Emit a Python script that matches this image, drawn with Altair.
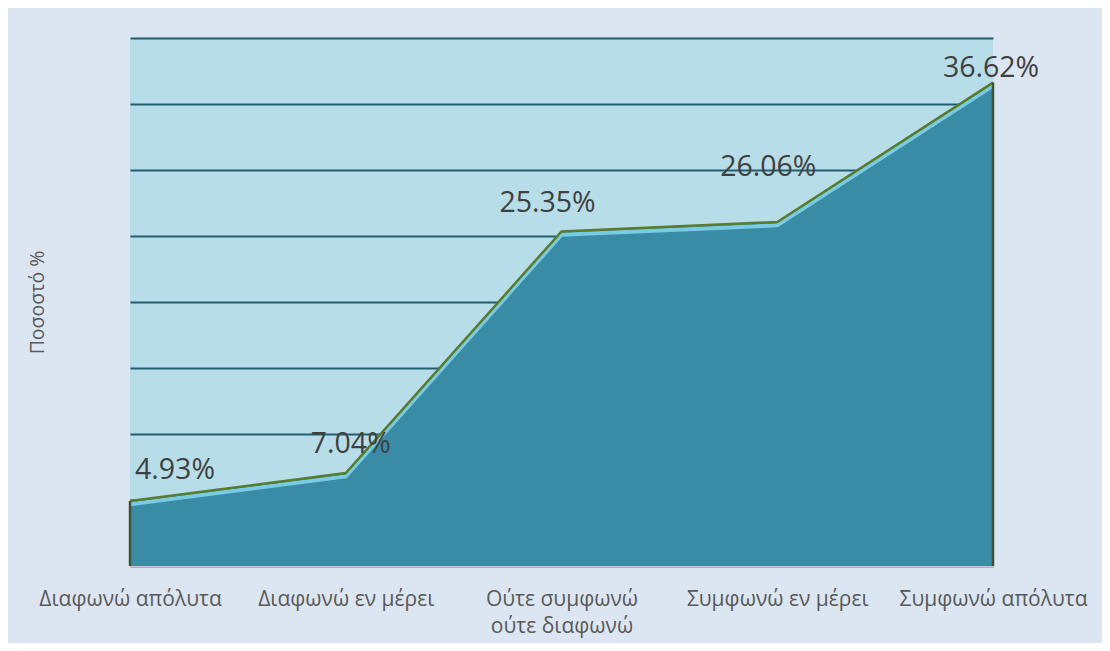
import altair as alt
import pandas as pd

categories = ["Διαφωνώ απόλυτα", "Διαφωνώ εν μέρει", "Ούτε συμφωνώ|ούτε διαφωνώ",
              "Συμφωνώ εν μέρει", "Συμφωνώ απόλυτα"]
values = [4.93, 7.04, 25.35, 26.06, 36.62]
labels = ["4.93%", "7.04%", "25.35%", "26.06%", "36.62%"]
y_ticks = [0, 5, 10, 15, 20, 25, 30, 35, 40]

# label placement offsets (style only, pixels)
label_dx = [45, 5, -14, -9, -2]
label_dy = [-31, -29, -28, -55, -15]

df = pd.DataFrame({"cat": categories, "v": values, "lab": labels})

FONT = "Open Sans"

x_enc = alt.X("cat:O", sort=categories,
              scale=alt.Scale(type="point", padding=0),
              axis=alt.Axis(title=None, labelExpr="split(datum.label, '|')",
                            labelAngle=0, labelFontSize=21, labelColor="#595959",
                            labelFont=FONT, labelPadding=22, labelLineHeight=27,
                            labelLimit=0, labelOverlap=False,
                            ticks=False, domain=True, domainColor="#c8c8c8",
                            domainWidth=2, grid=False, labelBaseline="top"))
y_scale = alt.Scale(domain=[0, 40], nice=False)

area = alt.Chart(df).mark_area(color="#3a8ba5", opacity=1).encode(
    x=x_enc,
    y=alt.Y("v:Q", scale=y_scale,
            axis=alt.Axis(values=y_ticks, labels=False, ticks=False, domain=False,
                          grid=True, gridColor="#215e72", gridWidth=2,
                          title="Ποσοστό %", titleFontSize=19.5, titleFont=FONT,
                          titleFontWeight="normal", titleColor="#595959",
                          titlePadding=83)),
)

bevel = alt.Chart(df).transform_calculate(vb="datum.v - 0.25").mark_line(
    color="#7fd2ea", strokeWidth=4, opacity=0.9).encode(
    x=alt.X("cat:O", sort=categories), y=alt.Y("vb:Q", scale=y_scale))

line = alt.Chart(df).mark_line(color="#5a7a2c", strokeWidth=2.5).encode(
    x=alt.X("cat:O", sort=categories), y=alt.Y("v:Q", scale=y_scale))

edges = alt.Chart(df).transform_filter(
    alt.FieldOneOfPredicate(field="cat", oneOf=[categories[0], categories[-1]])
).mark_rule(color="#3d5230", strokeWidth=2.5).encode(
    x=alt.X("cat:O", sort=categories), y=alt.Y("v:Q", scale=y_scale), y2=alt.datum(0))

texts = []
for i in range(len(categories)):
    t = alt.Chart(df.iloc[[i]]).mark_text(
        fontSize=28.5, font=FONT, color="#404040", align="center", baseline="middle",
        dx=label_dx[i], dy=label_dy[i]).encode(
        x=alt.X("cat:O", sort=categories), y=alt.Y("v:Q", scale=y_scale), text="lab:N")
    texts.append(t)

chart = alt.layer(area, bevel, line, edges, *texts).properties(
    width=863, height=528,
    padding={"left": 122, "top": 30, "right": 109, "bottom": 77},
    autosize=alt.AutoSizeParams(type="none"),
    background="#dce6f2",
).configure_view(fill="#b7dde8", stroke=None)

chart.save("out.html", embed_options={"renderer": "svg", "actions": False})
